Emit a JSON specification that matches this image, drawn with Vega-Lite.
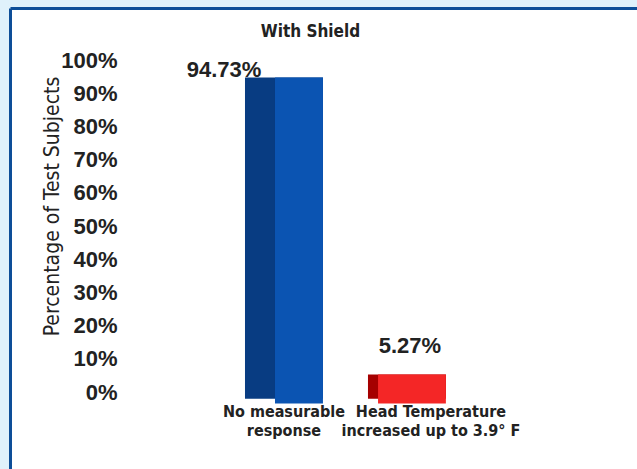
{
  "$schema": "https://vega.github.io/schema/vega-lite/v6.json",
  "width": 627,
  "height": 461,
  "autosize": {"type": "none"},
  "padding": {"left": 10, "top": 8, "right": 0, "bottom": 0},
  "background": "#dff1fb",
  "config": {
    "view": {"fill": "white", "stroke": null},
    "font": "Liberation Sans"
  },
  "title": {
    "text": "With Shield",
    "font": "DejaVu Sans Condensed, Liberation Sans",
    "fontSize": 17,
    "fontWeight": "bold",
    "color": "#222222",
    "offset": -33,
    "dx": -13
  },
  "data": {
    "values": [
      {"response": "No measurable\nresponse", "pct": 94.73, "label": "94.73%"},
      {"response": "Head Temperature\nincreased up to 3.9° F", "pct": 5.27, "label": "5.27%"}
    ]
  },
  "encoding": {
    "y": {
      "field": "pct",
      "type": "quantitative",
      "scale": {"domain": [-23.2, 115.7], "nice": false, "zero": false},
      "axis": {
        "values": [0, 10, 20, 30, 40, 50, 60, 70, 80, 90, 100],
        "labelExpr": "datum.value + '%'",
        "grid": false,
        "ticks": false,
        "domain": true,
        "domainColor": "#0d4e98",
        "domainWidth": 3,
        "labelPadding": -107,
        "labelAlign": "right",
        "labelFont": "Liberation Sans",
        "labelFontSize": 22,
        "labelFontWeight": "bold",
        "labelColor": "#222222",
        "title": "Percentage of Test Subjects",
        "titleFont": "DejaVu Sans Condensed, Liberation Sans",
        "titleFontSize": 21,
        "titleFontWeight": "normal",
        "titleColor": "#222222",
        "titleX": 48,
        "titleY": 198,
        "titleAngle": -90,
        "titleAlign": "center",
        "titleBaseline": "alphabetic"
      }
    }
  },
  "layer": [
    {
      "mark": {"type": "bar"},
      "encoding": {
        "x": {
          "field": "response",
          "type": "nominal",
          "sort": null,
          "scale": {
            "domain": [" ", "No measurable\nresponse", "Head Temperature\nincreased up to 3.9° F", "  "],
            "paddingInner": 0.366,
            "paddingOuter": 0.732,
            "align": 0.622
          },
          "axis": {
            "orient": "top",
            "labels": false,
            "ticks": false,
            "domain": true,
            "domainColor": "#0d4e98",
            "domainWidth": 3,
            "title": null
          }
        },
        "y2": {"datum": -2},
        "color": {
          "field": "response",
          "type": "nominal",
          "sort": null,
          "scale": {"range": ["#083c82", "#a50000"]},
          "legend": null
        }
      }
    },
    {
      "transform": [{"filter": "datum.pct > 50"}],
      "mark": {"type": "bar", "color": "#0b54b2", "width": {"band": 0.615}, "xOffset": 15},
      "encoding": {
        "x": {
          "field": "response",
          "type": "nominal",
          "sort": null,
          "axis": {
            "orient": "bottom",
            "labelExpr": "split(datum.label, '\\n')",
            "labelAngle": 0,
            "labelPadding": -66,
            "labelBaseline": "top",
            "labelFont": "DejaVu Sans Condensed, Liberation Sans",
            "labelFontSize": 16,
            "labelFontWeight": "bold",
            "labelLineHeight": 19,
            "labelLimit": 0,
            "labelOverlap": false,
            "labelOffset": {"condition": {"test": "datum.value == 'No measurable\\nresponse'", "value": 0}, "value": 24},
            "labelColor": "#222222",
            "ticks": false,
            "domain": false,
            "title": null
          }
        },
        "y2": {"datum": -3.5}
      }
    },
    {
      "transform": [{"filter": "datum.pct < 50"}],
      "mark": {"type": "bar", "color": "#f42626", "width": {"band": 0.87}, "xOffset": 5},
      "encoding": {
        "x": {"field": "response", "type": "nominal", "sort": null, "axis": null},
        "y2": {"datum": -3.5}
      }
    },
    {
      "transform": [{"filter": "datum.pct > 50"}],
      "mark": {"type": "text", "font": "Liberation Sans", "fontSize": 22, "fontWeight": "bold", "color": "#222222", "baseline": "bottom", "dx": -60, "dy": 4},
      "encoding": {
        "x": {"field": "response", "type": "nominal", "sort": null, "axis": null},
        "text": {"field": "label"}
      }
    },
    {
      "transform": [{"filter": "datum.pct < 50"}],
      "mark": {"type": "text", "font": "Liberation Sans", "fontSize": 22, "fontWeight": "bold", "color": "#222222", "baseline": "bottom", "dx": 3, "dy": -17},
      "encoding": {
        "x": {"field": "response", "type": "nominal", "sort": null, "axis": null},
        "text": {"field": "label"}
      }
    }
  ],
  "resolve": {"axis": {"x": "independent"}}
}
